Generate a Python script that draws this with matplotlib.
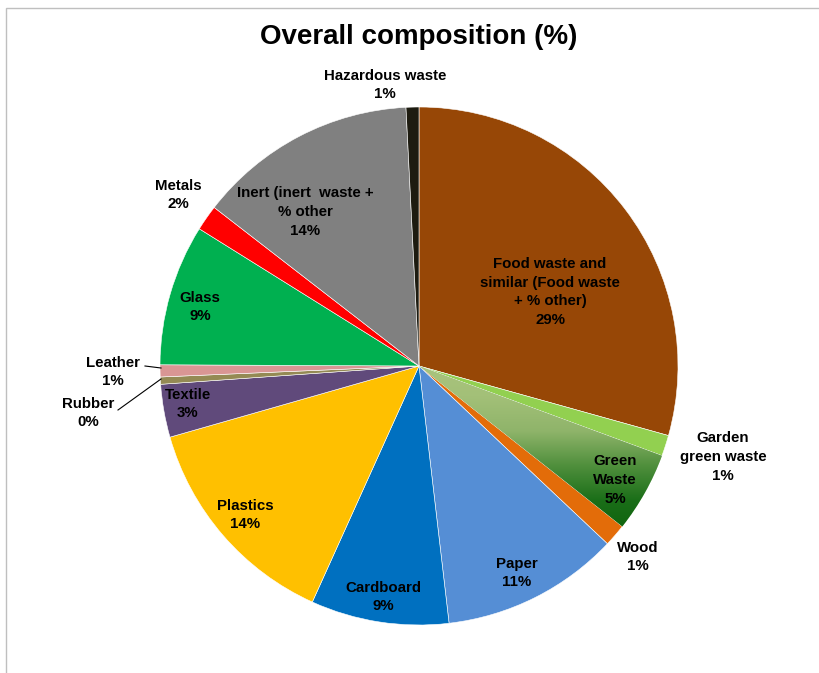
import matplotlib
matplotlib.use("Agg")
import matplotlib.pyplot as plt
import numpy as np
from matplotlib.colors import LinearSegmentedColormap
from matplotlib.patches import Rectangle

# slices clockwise from 12 o'clock
categories = ['Food waste and\nsimilar (Food waste\n+ % other)', 'Garden\ngreen waste', 'Green\nWaste',
              'Wood', 'Paper', 'Cardboard', 'Plastics', 'Textile', 'Rubber', 'Leather',
              'Glass', 'Metals', 'Inert (inert  waste +\n% other', 'Hazardous waste']
values = [29.3, 1.3, 5.0, 1.4, 11.1, 8.6, 13.8, 3.3, 0.45, 0.75, 8.8, 1.6, 13.7, 0.8]
colors = ['#974706', '#92d050', '#5e9a45', '#e36c09', '#558ed5', '#0070c0', '#ffc000',
          '#604a7b', '#948a54', '#d99694', '#00b050', '#ff0000', '#808080', '#1d1b10']

# label centres in pixels (x, y from top)
label_pos = [(550, 292), (723, 457), (615, 480), (638, 557), (517, 573), (383, 597),
             (245, 515), (188, 404), (88, 413), (113, 372), (200, 307), (178, 195),
             (305, 212), (385, 85)]

W, H = 819, 673
def Y(y):
    return H - y

fig = plt.figure(figsize=(W / 100, H / 100), dpi=100)
ax = fig.add_axes([0, 0, 1, 1])

cx, cy, r = 419, 366, 259
wedges, _ = ax.pie(values, colors=colors, startangle=90, counterclock=False,
                   center=(cx, Y(cy)), radius=r,
                   wedgeprops=dict(edgecolor='white', linewidth=0.4))

# gradient fill for Green Waste
gw = wedges[2]
cmap = LinearSegmentedColormap.from_list('gw', ['#aac47e', '#a3c078', '#8fb46a', '#4f8f3c', '#1a6e18', '#0c620c'])
grad = np.linspace(0, 1, 256).reshape(-1, 1)
im = ax.imshow(grad, cmap=cmap, aspect='auto', origin='upper',
               extent=(cx - 5, cx + 265, Y(cy + 170), Y(cy - 5)), zorder=2)
im.set_clip_path(gw)

ax.set_xlim(0, W)
ax.set_ylim(0, H)
ax.axis('off')

for name, v, (x, y) in zip(categories, values, label_pos):
    ax.text(x, Y(y), f'{name}\n{round(v):.0f}%', ha='center', va='center',
            fontsize=10.8, fontweight='bold', family='Liberation Sans',
            linespacing=1.45, zorder=5)

# leader lines for tiny slices
ax.plot([145, 161], [Y(366), Y(368)], color='black', lw=0.8, zorder=4)
ax.plot([118, 161], [Y(410), Y(379)], color='black', lw=0.8, zorder=4)

ax.text(419, Y(37), 'Overall composition (%)', ha='center', va='center',
        fontsize=20, fontweight='bold', family='Liberation Sans')

# chart area border
fig.patches.append(Rectangle((5.5 / W, -0.1), 1.2, (H - 8.5) / H + 0.1,
                             transform=fig.transFigure, fill=False,
                             edgecolor='#bfbfbf', lw=1))

fig.savefig('out.png', dpi=100)
